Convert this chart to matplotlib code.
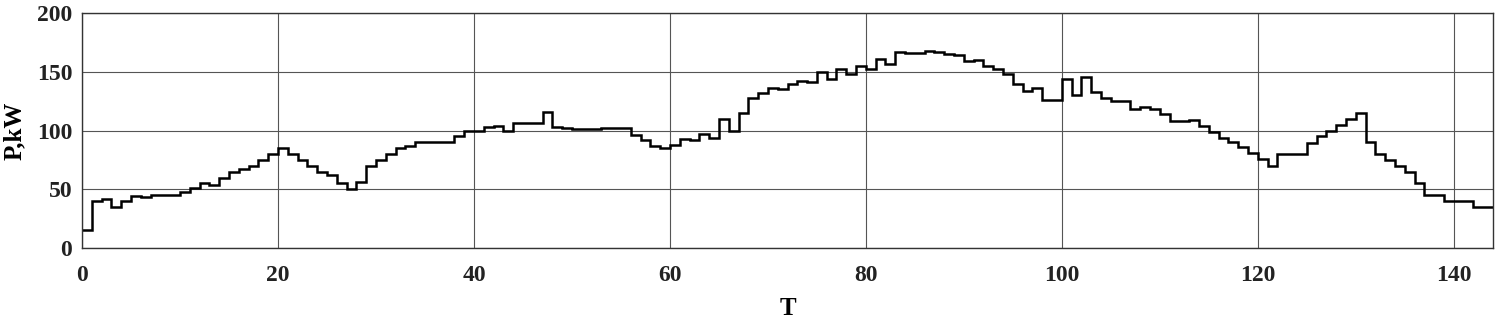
import numpy as np
import matplotlib
matplotlib.use("Agg")
import matplotlib.pyplot as plt

# Power per time step (kW), one value per interval [T, T+1)
power_kw = [
    15, 40, 42, 35, 40, 44, 43, 45, 45, 45,
    48, 51, 55, 54, 60, 65, 67, 70, 75, 80,
    85, 80, 75, 70, 65, 62, 55, 50, 56, 70,
    75, 80, 85, 87, 90, 90, 90, 90, 95, 100,
    100, 103, 104, 100, 106, 106, 106, 116, 103, 102,
    101, 101, 101, 102, 102, 102, 96, 92, 87, 85,
    88, 93, 92, 97, 94, 110, 100, 115, 128, 132,
    136, 135, 140, 142, 141, 150, 144, 152, 148, 155,
    152, 161, 157, 167, 166, 166, 168, 167, 165, 164,
    159, 160, 155, 152, 148, 140, 134, 136, 126, 126,
    144, 130, 146, 133, 128, 125, 125, 118, 120, 118,
    114, 108, 108, 109, 104, 99, 94, 90, 86, 81,
    76, 70, 80, 80, 80, 89, 95, 100, 105, 110,
    115, 90, 80, 75, 70, 65, 55, 45, 45, 40,
    40, 40, 35, 35,
]
x_ticks = [0, 20, 40, 60, 80, 100, 120, 140]
y_ticks = [0, 50, 100, 150, 200]
x_label = "T"
y_label = "P,kW"

plt.rcParams['font.family'] = ['Liberation Serif', 'DejaVu Serif']
plt.rcParams['font.weight'] = 'bold'

fig = plt.figure(figsize=(15, 3.19), dpi=100)
ax = fig.add_axes([0.0547, 0.2226, 0.9406, 0.7364])

edges = np.arange(len(power_kw) + 1)
ax.stairs(power_kw, edges, color='black', linewidth=1.8, baseline=None)

ax.set_xlim(0, 144)
ax.set_ylim(0, 200)
ax.set_xticks(x_ticks)
ax.set_yticks(y_ticks)
ax.grid(True, color='#555555', linewidth=0.8)
ax.set_axisbelow(True)
for s in ax.spines.values():
    s.set_color('#333333')
    s.set_linewidth(1.0)

ax.tick_params(axis='both', length=0, labelsize=17)
ax.tick_params(axis='x', pad=12)
ax.tick_params(axis='y', pad=7)
for lab in ax.get_xticklabels() + ax.get_yticklabels():
    lab.set_fontweight('bold')
    lab.set_color('#222222')

ax.set_xlabel(x_label, fontsize=18, fontweight='bold', labelpad=8)
ax.set_ylabel(y_label, fontsize=18, fontweight='bold', labelpad=8)

fig.savefig("out.png", dpi=100)
